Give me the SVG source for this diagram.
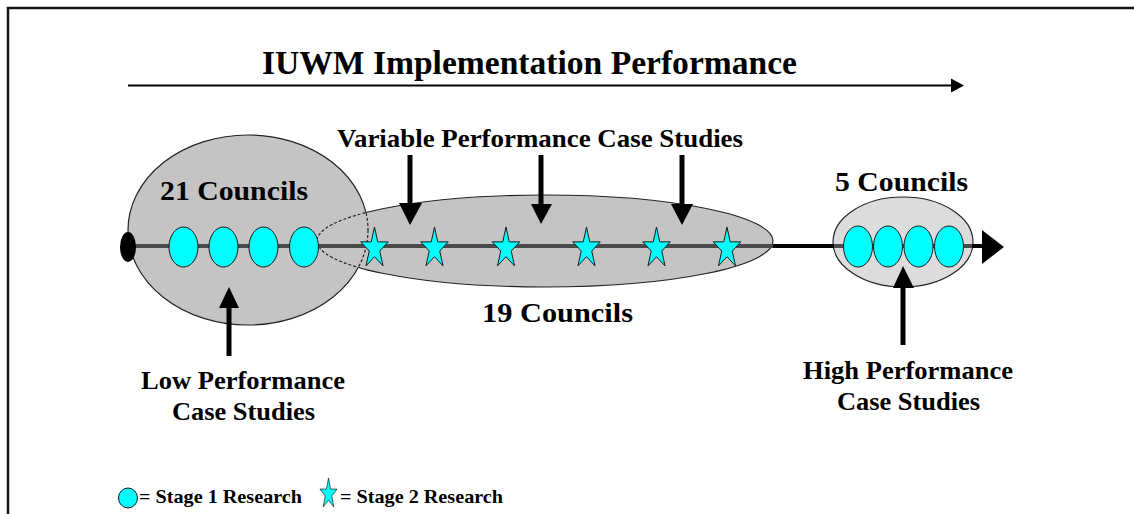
<svg xmlns="http://www.w3.org/2000/svg" width="1134" height="514" viewBox="0 0 1134 514">
  <style>
    .t { font-family: "Liberation Serif", "Times New Roman", serif; font-weight: bold; fill: #000; text-anchor: middle; }
    .cy { fill: #00ffff; stroke: #1a1a1a; stroke-width: 1; }
    .shaft { stroke: #000; stroke-width: 5; fill: none; }
    .head { fill: #000; }
    .outline { fill: none; stroke: #222; stroke-width: 1.2; }
  </style>
  <defs>
    <polygon id="star" points="0,-21.5 3.26,-6.64 13.79,-6.64 5.26,2.54 8.53,17.39 0,8.21 -8.53,17.39 -5.26,2.54 -13.79,-6.64 -3.26,-6.64"/>
    <clipPath id="outMid"><path clip-rule="evenodd" d="M0,0H1134V514H0Z M317,241 a228,46 0 1,0 456,0 a228,46 0 1,0 -456,0Z"/></clipPath>
    <clipPath id="inMid"><ellipse cx="545" cy="241" rx="228" ry="46"/></clipPath>
    <clipPath id="outLeft"><path clip-rule="evenodd" d="M0,0H1134V514H0Z M128,230 a120,95 0 1,0 240,0 a120,95 0 1,0 -240,0Z"/></clipPath>
    <clipPath id="inLeft"><ellipse cx="248" cy="230" rx="120" ry="95"/></clipPath>
  </defs>

  <rect width="1134" height="514" fill="#fff"/>
  <path d="M8,514 V8 H1134" fill="none" stroke="#151515" stroke-width="2.5"/>

  <g id="title">
    <text class="t" x="529.5" y="74" font-size="34" textLength="535" lengthAdjust="spacingAndGlyphs">IUWM Implementation Performance</text>
    <line x1="128" y1="85.5" x2="953" y2="85.5" stroke="#000" stroke-width="2"/>
    <polygon class="head" points="951,78.5 964,85.5 951,92.5"/>
  </g>

  <g id="low-group">
    <ellipse cx="248" cy="230" rx="120" ry="95" fill="#c4c4c4"/>
  </g>
  <g id="variable-group">
    <ellipse cx="545" cy="241" rx="228" ry="46" fill="#c4c4c4"/>
  </g>
  <g id="high-group">
    <ellipse cx="903" cy="242" rx="70" ry="45" fill="#dcdcdc" stroke="#222" stroke-width="1.2"/>
  </g>
  <g id="outlines">
    <ellipse class="outline" cx="248" cy="230" rx="120" ry="95" clip-path="url(#outMid)"/>
    <ellipse class="outline" cx="248" cy="230" rx="120" ry="95" clip-path="url(#inMid)" stroke-dasharray="3,2"/>
    <ellipse class="outline" cx="545" cy="241" rx="228" ry="46" clip-path="url(#outLeft)"/>
    <ellipse class="outline" cx="545" cy="241" rx="228" ry="46" clip-path="url(#inLeft)" stroke-dasharray="3,2"/>
  </g>

  <g id="connectors">
    <line x1="128" y1="246" x2="984" y2="246" stroke="#4a4a4a" stroke-width="4"/>
    <line x1="773" y1="246" x2="834" y2="246" stroke="#000" stroke-width="4"/>
    <line x1="972" y1="246" x2="984" y2="246" stroke="#000" stroke-width="4"/>
    <polygon class="head" points="982,230 1004,247 982,264"/>
    <ellipse cx="128" cy="247" rx="8" ry="15" fill="#000"/>

    <line class="shaft" x1="410" y1="155" x2="410" y2="206"/>
    <polygon class="head" points="399,203 422,203 410,225"/>
    <line class="shaft" x1="541" y1="155" x2="541" y2="206"/>
    <polygon class="head" points="531,204 552,204 541,224"/>
    <line class="shaft" x1="682" y1="155" x2="682" y2="206"/>
    <polygon class="head" points="671,204 693,204 682,225"/>

    <line class="shaft" x1="229" y1="356" x2="229" y2="305"/>
    <polygon class="head" points="219,308 239,308 229,287"/>
    <line class="shaft" x1="903" y1="345" x2="903" y2="285"/>
    <polygon class="head" points="893,288 914,288 903,266"/>
  </g>

  <g id="stage1-low">
    <ellipse class="cy" cx="183.5" cy="247" rx="14.5" ry="20"/>
    <ellipse class="cy" cx="223.5" cy="247" rx="14.5" ry="20"/>
    <ellipse class="cy" cx="263.5" cy="247" rx="14.5" ry="20"/>
    <ellipse class="cy" cx="304" cy="247" rx="14.5" ry="20"/>
  </g>
  <g id="stage2-variable">
    <use href="#star" class="cy" x="374.5" y="248.5"/>
    <use href="#star" class="cy" x="434.5" y="248.5"/>
    <use href="#star" class="cy" x="506" y="248.5"/>
    <use href="#star" class="cy" x="586.5" y="248.5"/>
    <use href="#star" class="cy" x="656.5" y="248.5"/>
    <use href="#star" class="cy" x="727" y="248.5"/>
  </g>
  <g id="stage1-high">
    <ellipse class="cy" cx="858" cy="246.5" rx="14.5" ry="20.5"/>
    <ellipse class="cy" cx="888" cy="246.5" rx="14.5" ry="20.5"/>
    <ellipse class="cy" cx="918.5" cy="246.5" rx="14.5" ry="20.5"/>
    <ellipse class="cy" cx="949" cy="246.5" rx="14.5" ry="20.5"/>
  </g>

  <g id="labels">
    <text class="t" x="540" y="147" font-size="26" textLength="406" lengthAdjust="spacingAndGlyphs">Variable Performance Case Studies</text>
    <text class="t" x="234" y="200" font-size="28" textLength="148" lengthAdjust="spacingAndGlyphs">21 Councils</text>
    <text class="t" x="557.5" y="322" font-size="28" textLength="151" lengthAdjust="spacingAndGlyphs">19 Councils</text>
    <text class="t" x="901.5" y="191" font-size="28" textLength="133" lengthAdjust="spacingAndGlyphs">5 Councils</text>
    <text class="t" x="243" y="389" font-size="26" textLength="204" lengthAdjust="spacingAndGlyphs">Low Performance</text>
    <text class="t" x="243.5" y="420" font-size="26" textLength="143" lengthAdjust="spacingAndGlyphs">Case Studies</text>
    <text class="t" x="908" y="379" font-size="26" textLength="210" lengthAdjust="spacingAndGlyphs">High Performance</text>
    <text class="t" x="908.5" y="410" font-size="26" textLength="143" lengthAdjust="spacingAndGlyphs">Case Studies</text>
  </g>

  <g id="legend">
    <ellipse class="cy" cx="128" cy="498" rx="9.5" ry="10"/>
    <text class="t" x="139" y="503" font-size="19" style="text-anchor:start" textLength="163" lengthAdjust="spacingAndGlyphs">= Stage 1 Research</text>
    <use href="#star" class="cy" transform="translate(328.5,494) scale(0.62,0.745)"/>
    <text class="t" x="340" y="503" font-size="19" style="text-anchor:start" textLength="163" lengthAdjust="spacingAndGlyphs">= Stage 2 Research</text>
  </g>
</svg>
